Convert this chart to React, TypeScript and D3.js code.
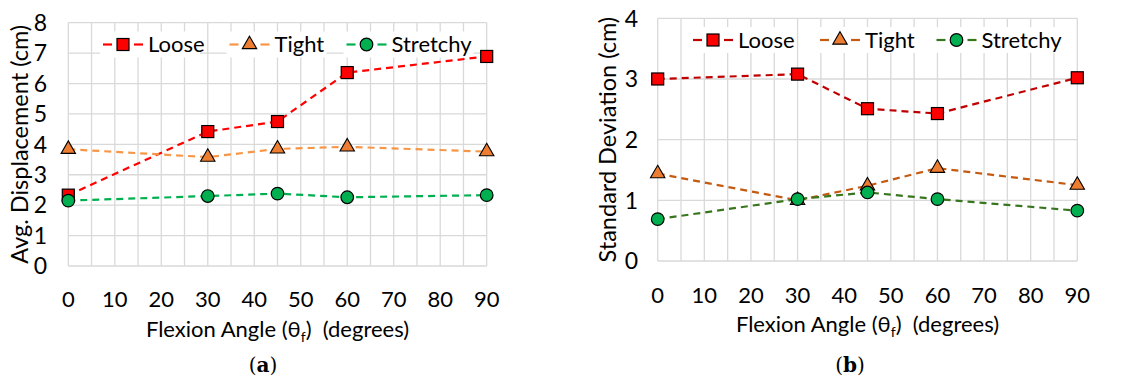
import React from "react";
import * as d3 from "d3";

const angles = [0, 30, 45, 60, 90];
const xTicks = [0, 10, 20, 30, 40, 50, 60, 70, 80, 90];

const dispLoose = [2.33, 4.42, 4.75, 6.36, 6.89];
const dispTight = [3.84, 3.58, 3.85, 3.92, 3.76];
const dispStretchy = [2.15, 2.3, 2.38, 2.26, 2.33];

const sdLoose = [3.0, 3.08, 2.51, 2.43, 3.02];
const sdTight = [1.44, 1.0, 1.24, 1.53, 1.25];
const sdStretchy = [0.69, 1.02, 1.13, 1.02, 0.83];

const dispTicks = [0, 1, 2, 3, 4, 5, 6, 7, 8];
const sdTicks = [0, 1, 2, 3, 4];

const seriesNames = ["Loose", "Tight", "Stretchy"];

const FONT = "Lato, 'Open Sans', sans-serif";

type Panel = {
  x0: number; x1: number; yTop: number; yBot: number; yMax: number;
  yTicks: number[]; yLabel: string; yLabelX: number; tickRight: number;
  series: number[][]; lineColors: string[];
  legendY: number; legendX: number[]; caption: string; captionX: number;
  xLabelY: number; xTickY: number;
};

const fills = ["#FF0000", "#ED7D31", "#00B050"];

const panels: Panel[] = [
  {
    x0: 68.3, x1: 486.7, yTop: 22.7, yBot: 266, yMax: 8,
    yTicks: dispTicks, yLabel: "Avg. Displacement (cm)", yLabelX: 20, tickRight: 47,
    series: [dispLoose, dispTight, dispStretchy],
    lineColors: ["#FF0000", "#F79646", "#00B050"],
    legendY: 44.5, legendX: [123, 249.5, 366.5], caption: "a", captionX: 263,
    xLabelY: 329, xTickY: 299,
  },
  {
    x0: 657.7, x1: 1077.3, yTop: 18.3, yBot: 261, yMax: 4,
    yTicks: sdTicks, yLabel: "Standard Deviation (cm)", yLabelX: 608, tickRight: 638,
    series: [sdLoose, sdTight, sdStretchy],
    lineColors: ["#C00000", "#C55A11", "#38761D"],
    legendY: 40, legendX: [713, 840, 956.5], caption: "b", captionX: 850,
    xLabelY: 324, xTickY: 295,
  },
];

function Marker({ kind, x, y }: { kind: number; x: number; y: number }) {
  if (kind === 0) {
    return <rect x={x - 6} y={y - 6} width={12} height={12} fill={fills[0]} stroke="#000" strokeWidth={1.2} />;
  }
  if (kind === 1) {
    const s = d3.symbol().type(d3.symbolTriangle).size(90)();
    return <path d={s || ""} transform={`translate(${x},${y})`} fill={fills[1]} stroke="#000" strokeWidth={1.1} />;
  }
  return <circle cx={x} cy={y} r={6.3} fill={fills[2]} stroke="#000" strokeWidth={1.2} />;
}

function PanelView({ p }: { p: Panel }) {
  const x = d3.scaleLinear().domain([0, 90]).range([p.x0, p.x1]);
  const y = d3.scaleLinear().domain([0, p.yMax]).range([p.yBot, p.yTop]);
  const minorX = d3.range(0, 91, 5);
  const line = d3.line<number>().x((_, i) => x(angles[i])).y((v) => y(v));
  const midY = (p.yTop + p.yBot) / 2;
  const xMid = (p.x0 + p.x1) / 2;
  return (
    <g>
      {minorX.map((v) => (
        <line key={"vx" + v} x1={x(v)} x2={x(v)} y1={p.yTop} y2={p.yBot} stroke="#D9D9D9" strokeWidth={1.3} />
      ))}
      {p.yTicks.map((v) => (
        <line key={"hy" + v} x1={p.x0} x2={p.x1} y1={y(v)} y2={y(v)} stroke="#D9D9D9" strokeWidth={1.3} />
      ))}
      {p.yTicks.map((v) => (
        <text key={"ty" + v} x={p.tickRight} y={y(v)} dy="0.36em" textAnchor="end" fontSize={23} fontFamily={FONT} fill="#000">{v}</text>
      ))}
      {xTicks.map((v) => (
        <text key={"tx" + v} x={x(v)} y={p.xTickY} dy="0.36em" textAnchor="middle" fontSize={22} fontFamily={FONT} fill="#000">{v}</text>
      ))}
      <text x={xMid} y={p.xLabelY} dy="0.36em" textAnchor="middle" fontSize={22} fontFamily={FONT} fill="#000" style={{ whiteSpace: "pre" }}>
        Flexion Angle (θ<tspan fontSize={14} dy="5">f</tspan><tspan dy="-5">{")  (degrees)"}</tspan>
      </text>
      <text transform={`translate(${p.yLabelX},${midY}) rotate(-90)`} dy="0.36em" textAnchor="middle" fontSize={23.5} fontFamily={FONT} fill="#000">{p.yLabel}</text>
      {seriesNames.map((name, si) => {
        const mx = p.legendX[si];
        return (
          <rect key={"lb" + si} x={mx - 23} y={p.legendY - 13} width={name.length * 10 + 50} height={26} fill="#fff" />
        );
      })}
      {p.series.map((vals, si) => (
        <path key={"l" + si} d={line(vals) || ""} fill="none" stroke={p.lineColors[si]} strokeWidth={2.2} strokeDasharray="7,5" />
      ))}
      {p.series.map((vals, si) =>
        vals.map((v, i) => <Marker key={"m" + si + "-" + i} kind={si} x={x(angles[i])} y={y(v)} />)
      )}
      {seriesNames.map((name, si) => {
        const mx = p.legendX[si];
        return (
          <g key={"lg" + si}>
            <line x1={mx - 20} x2={mx - 11} y1={p.legendY} y2={p.legendY} stroke={p.lineColors[si]} strokeWidth={2.2} />
            <line x1={mx + 11} x2={mx + 20} y1={p.legendY} y2={p.legendY} stroke={p.lineColors[si]} strokeWidth={2.2} />
            <Marker kind={si} x={mx} y={p.legendY} />
            <text x={mx + 25} y={p.legendY} dy="0.36em" fontSize={22} fontFamily={FONT} fill="#000">{name}</text>
          </g>
        );
      })}
      <text x={p.captionX} y={365} dy="0.36em" textAnchor="middle" fontSize={20} fontFamily="'DejaVu Serif', 'Liberation Serif', serif" fill="#000">
        (<tspan fontWeight="bold">{p.caption}</tspan>)
      </text>
    </g>
  );
}

export default function App() {
  return (
    <svg width={1137} height={383} style={{ position: "absolute", left: 0, top: 0, background: "#fff" }}>
      <rect width={1137} height={383} fill="#fff" />
      {panels.map((p, i) => <PanelView key={i} p={p} />)}
    </svg>
  );
}
